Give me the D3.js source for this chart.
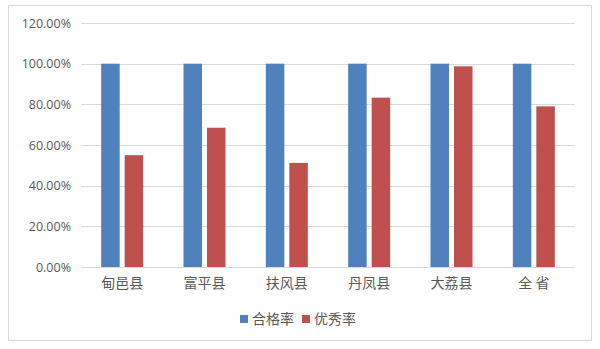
<!DOCTYPE html>
<html>
<head>
<meta charset="utf-8">
<script src="https://cdn.jsdelivr.net/npm/d3@7"></script>
<style>
  body { margin: 0; background: #fff; }
  svg { display: block; }
</style>
</head>
<body>
<svg id="chart"></svg>
<script>
// Data
const counties = ["甸邑县", "富平县", "扶风县", "丹凤县", "大荔县", "全 省"];
const passRate = [100, 100, 100, 100, 100, 100];
const excellentRate = [55.0, 68.5, 51.2, 83.3, 98.7, 79.0];
const seriesNames = ["合格率", "优秀率"];
const yTicks = [0, 20, 40, 60, 80, 100, 120];

const width = 600;
const height = 349;
const margin = { top: 23, right: 25, bottom: 82, left: 81 };
const colors = ["#4f81bd", "#c0504d"];

const svg = d3.select("#chart")
  .attr("width", width)
  .attr("height", height);

// outer frame
svg.append("rect")
  .attr("x", 8.5).attr("y", 5.5)
  .attr("width", 583).attr("height", 335)
  .attr("fill", "#fff")
  .attr("stroke", "#d9d9d9");

const innerW = width - margin.left - margin.right;
const innerH = height - margin.top - margin.bottom;

const g = svg.append("g")
  .attr("transform", `translate(${margin.left},${margin.top})`);

const x = d3.scaleBand()
  .domain(counties)
  .range([0, innerW]);

const x1 = d3.scaleBand()
  .domain(seriesNames)
  .range([0, x.bandwidth()])
  .paddingInner(0.213)
  .paddingOuter(0.858);

const y = d3.scaleLinear()
  .domain([0, 120])
  .range([innerH, 0]);

// gridlines
g.selectAll(".grid")
  .data(yTicks)
  .join("line")
    .attr("class", "grid")
    .attr("x1", 0).attr("x2", innerW)
    .attr("y1", d => Math.round(y(d)) + 0.5)
    .attr("y2", d => Math.round(y(d)) + 0.5)
    .attr("stroke", "#d9d9d9");

// y axis labels
const yAxis = d3.axisLeft(y)
  .tickValues(yTicks)
  .tickSize(0)
  .tickPadding(10)
  .tickFormat(d => d.toFixed(2) + "%");

g.append("g")
  .call(yAxis)
  .call(a => a.select(".domain").remove())
  .call(a => a.selectAll("text")
    .attr("fill", "#595959")
    .attr("font-size", 12.5)
    .attr("font-family", "'Open Sans', 'Liberation Sans', sans-serif"));

// bars
const rows = counties.map((c, i) => ({
  county: c,
  values: [
    { key: seriesNames[0], value: passRate[i] },
    { key: seriesNames[1], value: excellentRate[i] }
  ]
}));

const groups = g.selectAll(".group")
  .data(rows)
  .join("g")
    .attr("class", "group")
    .attr("transform", d => `translate(${x(d.county)},0)`);

groups.selectAll("rect")
  .data(d => d.values)
  .join("rect")
    .attr("x", d => x1(d.key))
    .attr("width", x1.bandwidth())
    .attr("y", d => y(d.value))
    .attr("height", d => y(0) - y(d.value))
    .attr("fill", (d, i) => colors[i]);

// x axis labels
const xAxis = d3.axisBottom(x)
  .tickSize(0)
  .tickPadding(11);

g.append("g")
  .attr("transform", `translate(0,${innerH})`)
  .call(xAxis)
  .call(a => a.select(".domain").remove())
  .call(a => a.selectAll("text")
    .attr("fill", "#595959")
    .attr("font-size", 14)
    .attr("font-family", "'Noto Sans CJK SC', sans-serif"));

// legend
const legend = svg.append("g")
  .attr("transform", "translate(240,319)");

const legendX = [0, 62];
const items = legend.selectAll(".item")
  .data(seriesNames)
  .join("g")
    .attr("class", "item")
    .attr("transform", (d, i) => `translate(${legendX[i]},0)`);

items.append("rect")
  .attr("x", 0).attr("y", -4)
  .attr("width", 8).attr("height", 8)
  .attr("fill", (d, i) => colors[i]);

items.append("text")
  .attr("x", 12)
  .attr("y", 5)
  .attr("fill", "#595959")
  .attr("font-size", 14)
  .attr("font-family", "'Noto Sans CJK SC', sans-serif")
  .text(d => d);
</script>
</body>
</html>
